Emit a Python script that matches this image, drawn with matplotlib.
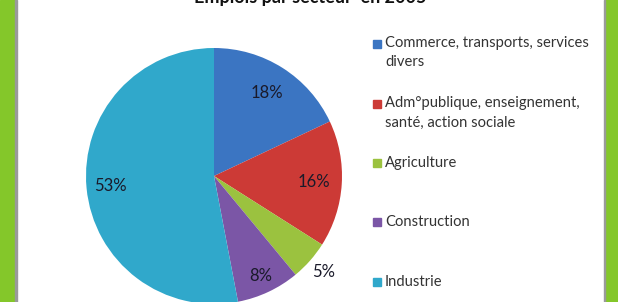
import numpy as np
import matplotlib.pyplot as plt
from matplotlib.patches import Rectangle

secteurs = ["Commerce, transports, services\ndivers",
            "Adm°publique, enseignement,\nsanté, action sociale",
            "Agriculture",
            "Construction",
            "Industrie"]
parts = [18, 16, 5, 8, 53]
couleurs = ["#3b75c2", "#cc3a36", "#9bc23f", "#7b56a6", "#30a8cb"]
etiquettes = ["18%", "16%", "5%", "8%", "53%"]

plt.rcParams['font.family'] = ['Lato', 'DejaVu Sans']

W, H = 618, 302
fig = plt.figure(figsize=(W / 100, H / 100), dpi=100)

# cadre vert a gauche et a droite
fig.patches.append(Rectangle((0, 0), 15 / W, 1, transform=fig.transFigure,
                             color="#84c72a", zorder=0))
fig.patches.append(Rectangle((605 / W, 0), 13 / W, 1, transform=fig.transFigure,
                             color="#84c72a", zorder=0))
fig.patches.append(Rectangle((15 / W, 0), 1.5 / W, 1, transform=fig.transFigure,
                             color="#9a9a9a", zorder=0))
fig.patches.append(Rectangle((603.5 / W, 0), 1.5 / W, 1, transform=fig.transFigure,
                             color="#9a9a9a", zorder=0))

cx, cy, r = 214, 126, 128
ax = fig.add_axes([(cx - r) / W, (cy - r) / H, 2 * r / W, 2 * r / H])
wedges, _ = ax.pie(parts, colors=couleurs, startangle=90, counterclock=False,
                   radius=1, wedgeprops=dict(linewidth=0))
ax.set_xlim(-1, 1)
ax.set_ylim(-1, 1)
ax.set_aspect('equal')
ax.axis('off')

dist = [0.77, 0.78, 1.14, 0.86, 0.81]
for w, txt, d in zip(wedges, etiquettes, dist):
    a = np.deg2rad((w.theta1 + w.theta2) / 2)
    ax.text(d * np.cos(a), d * np.sin(a), txt, ha='center', va='center',
            fontsize=12, color="#1a1a2a", clip_on=False)

fig.text(310 / W, 1 - 3 / H, "Emplois par secteur  en 2005", ha='center',
         va='baseline', fontsize=13, fontweight='bold', color="#111111")

# legende
ys = [44, 104, 163, 222, 282]
for lab, col, y in zip(secteurs, couleurs, ys):
    fig.patches.append(Rectangle((373 / W, 1 - (y + 4) / H), 8 / W, 8 / H,
                                 transform=fig.transFigure, color=col))
    fig.text(385 / W, 1 - (y - 7.5) / H, lab, ha='left', va='top',
             fontsize=10.6, color="#333333", linespacing=1.45)

fig.savefig("out.png", dpi=100)
